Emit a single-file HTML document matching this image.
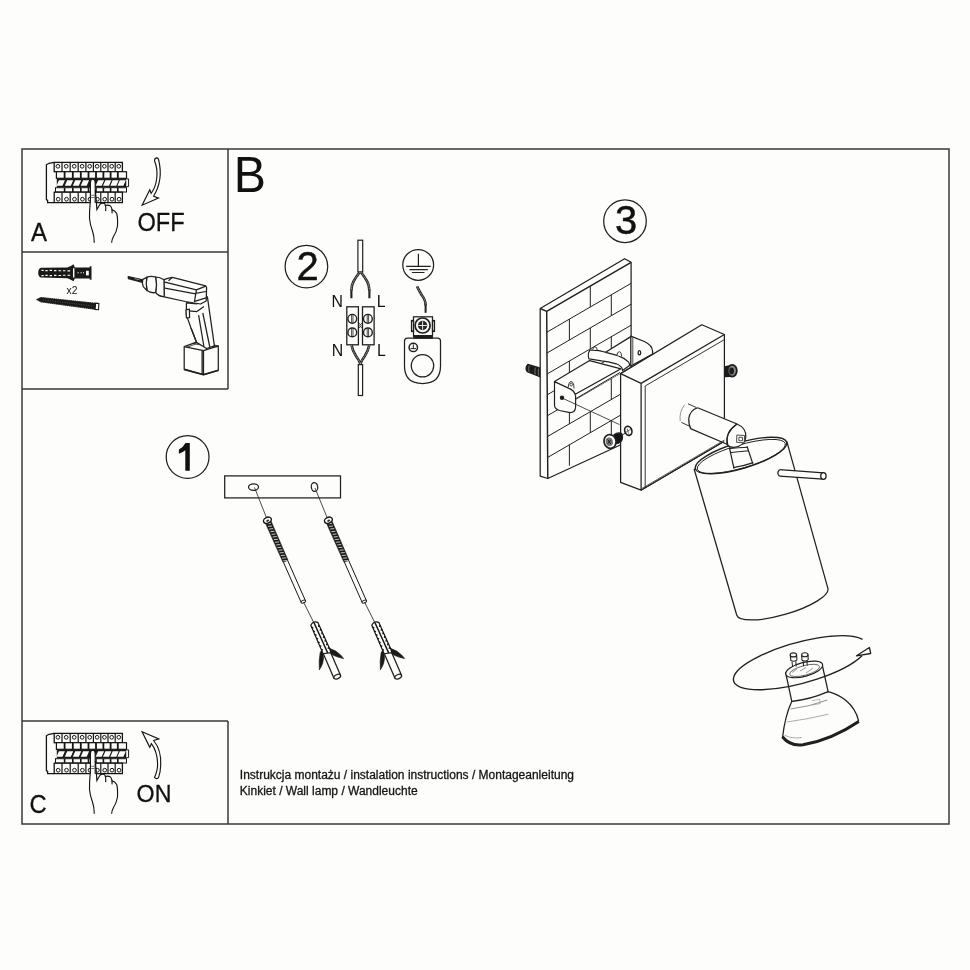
<!DOCTYPE html>
<html><head><meta charset="utf-8">
<style>
html,body{margin:0;padding:0;background:#fdfdfb;width:970px;height:970px;overflow:hidden}
svg{display:block;will-change:transform}
text{font-family:"Liberation Sans",sans-serif;fill:#111}
</style></head><body>
<svg width="970" height="970" viewBox="0 0 970 970">
<defs>
<g id="breaker" fill="none" stroke="#151515" stroke-width="1.15">
<path d="M54.2,162.4 L49,163.3 L46.4,164.8 L46.4,199.6 L47.6,200.4 L47.6,202.6 L54.2,202.6" fill="#fdfdfb" stroke-width="1.3"/>
<rect x="54.2" y="162.4" width="68.2" height="9.3" fill="#fdfdfb" stroke-width="1.3"/>
<path d="M62.0,162.4V171.7 M70.2,162.4V171.7 M78.2,162.4V171.7 M85.9,162.4V171.7 M93.4,162.4V171.7 M100.8,162.4V171.7 M108.0,162.4V171.7 M115.2,162.4V171.7" stroke-width="1.2"/>
<g stroke-width="1"><circle cx="57.9" cy="166.3" r="1.85"/><circle cx="66.2" cy="166.3" r="1.85"/><circle cx="74.2" cy="166.3" r="1.85"/><circle cx="82.1" cy="166.3" r="1.85"/><circle cx="89.7" cy="166.3" r="1.85"/><circle cx="97.1" cy="166.3" r="1.85"/><circle cx="104.4" cy="166.3" r="1.85"/><circle cx="111.7" cy="166.3" r="1.85"/><circle cx="118.8" cy="166.3" r="1.85"/></g>
<rect x="56.4" y="171.7" width="70.1" height="6.6" fill="#fdfdfb" stroke-width="1.2"/>
<path d="M64.6,171.7V178.3 M72.8,171.7V178.3 M80.8,171.7V178.3 M88.5,171.7V178.3 M96.0,171.7V178.3 M103.4,171.7V178.3 M110.6,171.7V178.3 M117.8,171.7V178.3" stroke-width="1.8"/>
<rect x="56.8" y="178.4" width="69.8" height="9" fill="#1a1a1a" stroke="none"/>
<path d="M126.4,178.9 H128.6 V186.6 H126.4" fill="#fdfdfb" stroke-width="1"/>
<path d="M56.5,185.7 L58.9,180.3 L64.9,180.3 L62.5,185.7 Z M64.8,185.7 L67.2,180.3 L73.2,180.3 L70.8,185.7 Z M72.8,185.7 L75.2,180.3 L81.2,180.3 L78.8,185.7 Z M80.7,185.7 L83.1,180.3 L89.1,180.3 L86.7,185.7 Z M95.7,185.7 L98.1,180.3 L104.1,180.3 L101.7,185.7 Z M103.0,185.7 L105.4,180.3 L111.4,180.3 L109.0,185.7 Z M110.3,185.7 L112.7,180.3 L118.7,180.3 L116.3,185.7 Z M117.4,185.7 L119.8,180.3 L125.8,180.3 L123.4,185.7 Z" fill="#fdfdfb" stroke="none"/>
<rect x="55.5" y="187.7" width="71.0" height="4.3" fill="#fdfdfb" stroke-width="1"/>
<path d="M64.6,187.7V192 M72.8,187.7V192 M80.8,187.7V192 M88.5,187.7V192 M96.0,187.7V192 M103.4,187.7V192 M110.6,187.7V192 M117.8,187.7V192" stroke-width="1.6"/>
<rect x="54.2" y="192.2" width="68.2" height="10.4" fill="#fdfdfb" stroke-width="1.3"/>
<path d="M62.0,192.2V202.6 M70.2,192.2V202.6 M78.2,192.2V202.6 M85.9,192.2V202.6 M93.4,192.2V202.6 M100.8,192.2V202.6 M108.0,192.2V202.6 M115.2,192.2V202.6" stroke-width="1.2"/>
<g stroke-width="1"><circle cx="58.2" cy="199.2" r="1.85"/><circle cx="66.5" cy="199.2" r="1.85"/><circle cx="74.5" cy="199.2" r="1.85"/><circle cx="82.4" cy="199.2" r="1.85"/><circle cx="90.0" cy="199.2" r="1.85"/><circle cx="97.4" cy="199.2" r="1.85"/><circle cx="104.7" cy="199.2" r="1.85"/><circle cx="112.0" cy="199.2" r="1.85"/><circle cx="119.1" cy="199.2" r="1.85"/></g>

  <!-- hand -->
  <path d="M90.4,183 Q90.6,179.2 92.8,179.2 Q95,179.2 95.2,183 L95.4,190 L96.9,209.6 L99.9,204.3 Q102,202.6 104.5,203.5 Q105.8,205.5 105.6,211 L105.8,207 Q107.5,204.8 110,205.5 Q112.5,207 112.4,213.4 L112.3,210 Q115,210.6 116.7,213.5 Q117.9,218 117.5,226 Q116.5,232 113.5,236 Q112,239.5 111.6,242.5 L94.3,242.7 Q94.2,236 92.5,230 Q89.8,223 89.6,215 L90.2,202.8 Z" fill="#fdfdfb" stroke="none"/>
  <path d="M90.4,202.8 L90.4,183 Q90.6,179.2 92.8,179.2 Q95,179.2 95.2,183 L95.2,203"/>
  <path d="M90.2,202.8 Q89.3,212 89.5,218.5 Q90.2,225 92.5,231 Q94.2,236 94.3,242.7"/>
  <path d="M95.4,190 L96.9,209.6 L99.9,204.3 Q102,202.6 104.5,203.5 Q106.2,205.8 105.6,211.1"/>
  <path d="M104.9,205.6 Q107.5,204.8 110,205.6 Q112.5,207.5 112,213.4"/>
  <path d="M111.6,209.6 Q115,210.4 116.7,213.5 Q117.9,218 117.5,226 Q116.5,232 113.5,236.5 Q111.8,239.5 111.6,242.8"/>
  <path d="M91.2,195.3 h3.2 M91.2,197.5 h3.2" stroke-width="0.6"/>
</g>
</defs>

<!-- frame -->
<g fill="none" stroke="#3a3a3a" stroke-width="1.5">
  <rect x="22" y="149" width="927" height="675"/>
  <path d="M228,149V389M22,252H228M22,389H228M22,721H228M228,721V824"/>
</g>

<!-- Panel A -->
<use href="#breaker"/>
<text transform="translate(31,240.9) scale(0.93,1)" stroke="#111" stroke-width="0.3" font-size="25.8">A</text>
<text transform="translate(137.4,230.9) scale(0.945,1)" font-size="25" stroke="#111" stroke-width="0.25">OFF</text>
<path d="M154.5,160.7 Q154.8,157.9 156.8,157.9 Q158.6,158 158.8,160.7 C161.5,172 161,184 153.6,196.2 L158.5,198.1 L142.1,205.2 L149.8,189.7 L151.1,193.4 C156.8,186 159.2,172 154.5,160.7 Z" fill="#fdfdfb" stroke="#151515" stroke-width="1.15" stroke-linejoin="miter"/>

<!-- Panel C -->
<use href="#breaker" transform="translate(0,571)"/>
<text transform="translate(29.6,813.3) scale(0.92,1)" stroke="#111" stroke-width="0.3" font-size="25.8">C</text>
<text transform="translate(136.6,802.3) scale(0.955,1)" stroke="#111" stroke-width="0.3" font-size="24.3">ON</text>
<path d="M142.1,731.8 L158.8,738.9 L153.6,740.5 C159,747 161.2,757 160.7,765.2 Q160.5,772 158.5,777.6 Q156.4,779.8 154.5,777.4 Q157.8,770 157.6,764 C157.5,756 155.5,749 151.4,743.6 L149.8,747.3 Z" fill="#fdfdfb" stroke="#151515" stroke-width="1.15"/>

<!-- Panel tools -->
<g id="dowel">
  <path d="M40.8,267.8 Q38.2,269 38.2,272.7 Q38.2,276.4 40.8,277.6 L67.4,278.2 Q71,279.5 73.6,281.2 L74.8,278.6 L89.7,278.6 L89.7,279.8 L91.5,279.8 L91.5,266.2 L89.7,266.2 L89.7,267.4 L74.8,267.4 L73.6,264.3 Q71,266.3 67.4,267.6 Z" fill="#1a1a1a"/>
  <path d="M41.5,270.4h2.2M45.3,270.6h2.4M49.6,270.4h2.4M54,270.6h2.4M58.5,270.7h2.6M63,270.8h2.4M67.5,270.9h2.6 M41.5,275.6h2.2M45.3,275.4h2.4M49.6,275.6h2.4M54,275.4h2.4M58.5,275.5h2.6M63,275.2h2.4M67.5,275.3h2.6" stroke="#fff" stroke-width="1.1"/>
  <path d="M73.7,268.2V277.4" stroke="#fff" stroke-width="1.4"/>
  <rect x="86" y="270.8" width="2.8" height="4.6" fill="#fdfdfb"/>
  <path d="M77.5,272.8h1.2M80.5,272.8h1.2M83,272.8h1" stroke="#fff" stroke-width="1"/>
</g>
<text x="66.6" y="293.7" font-size="10.3">x2</text>
<path d="M36.4,299.6 L40.5,297.5 L95.6,303.3 L95.2,309.3 L40.5,301.8 Z" fill="#1a1a1a" stroke="#1a1a1a" stroke-width="0.6" stroke-linejoin="round"/>
<path d="M41,297.6 L95.4,303.4 M41,301.8 L95.1,309.2" stroke="#1a1a1a" stroke-width="1.3" stroke-dasharray="0.7 1.2"/>
<path d="M43,299.9 L93.5,306" stroke="#777" stroke-width="0.6" stroke-dasharray="1 1.4"/>
<path d="M95.6,303.1 L98.9,303.5 L98.5,309.7 L95.1,309.4 Z" fill="#fdfdfb" stroke="#1a1a1a" stroke-width="1.1"/>

<!-- drill -->
<g fill="#fdfdfb" stroke="#202020" stroke-width="1.25" stroke-linejoin="round">
  <path d="M128.2,276.5 L142.8,279.8 L142.6,282.3 L128.4,278.6 Z" fill="#1a1a1a"/>
  <path d="M134.5,278.6 L139.5,279.8" stroke="#aaa" stroke-width="0.8"/>
  <!-- battery -->
  <path d="M184.2,346.7 L195.1,342.7 L218.3,345.8 L218.3,370.3 L203.5,374.7 L184.2,369.4 Z"/>
  <path d="M184.2,346.7 L203.5,350.6 L218.3,345.8 M203.5,350.6 L203.5,374.7 M202.1,350.4 L202.1,374.2"/>
  <path d="M184.2,369.4 L203.5,374.7 L218.3,370.3" stroke-width="1.7" fill="none"/>
  <path d="M186,347.6 L195.3,344.2 L217,347" fill="none" stroke-width="0.8"/>
  <!-- handle -->
  <path d="M186.4,302.9 L207.4,296.8 L214.4,345.8 L206.5,348.5 L196.5,342.3 L191,328 L186.4,315.1 Z"/>
  <path d="M189,310.8 L196.9,311.6 L203.9,306.4 M198.6,315.1 L203.9,346.5 M202.8,313 L209.8,347 M186.4,303 L196.9,303.8 L207.4,296.8" fill="none"/>
  <path d="M186,309.9 L189.4,309.2 L189.6,317.6 L186.4,317.8 Z"/>
  <path d="M191,328 L196.5,342.3 L193.8,343.5" fill="none"/>
  <!-- body -->
  <path d="M164,279.7 L167.7,278.3 L172.3,277.4 L205.7,285.8 L206.6,287.5 L206.2,301 L200.5,304 L185.3,301.5 L164.2,296.9 Z"/>
  <path d="M164.9,282.1 L196.4,289.9 L205.8,286.2 M164.9,288.1 L194.1,293.7 L205.9,291.5 M194.6,301.3 L206,297.8 M196.4,289.9 L194.4,302 M172.3,277.4 L168.5,280.8" fill="none"/>
  <!-- chuck -->
  <path d="M155.6,277 Q160,277.3 164,279.7 L164.2,296.5 Q159,296.8 155.6,292.5 Q157.4,284.8 155.6,277 Z"/>
  <path d="M146.8,277.2 Q151,275.6 155.6,277 Q157.4,284.8 155.6,292.5 Q151,293.5 147,290.5 Q145.6,284 146.8,277.2 Z"/>
  <path d="M142.8,279.4 L146.8,277.4 Q145.6,284 147,290.5 L143.2,286.6 Q141.8,283 142.8,279.4 Z"/>
</g>

<!-- B header -->
<text transform="translate(233.8,192.1) scale(0.965,1)" font-size="50">B</text>

<!-- Step 2: wiring -->
<g fill="none" stroke="#202020" stroke-width="1.25">
  <circle cx="306.4" cy="266.6" r="21.3"/>
  <circle cx="418.2" cy="264.9" r="15.4"/>
  <path d="M418.4,253.8V266.3 M406.1,266.3H430.7 M409.4,269.6H427.8 M411.9,272.5H424.5" stroke-width="1.2"/>
  <!-- top cable -->
  <rect x="357.9" y="240.2" width="4.8" height="31.7" fill="#fdfdfb" stroke-width="1.2"/>
  <path d="M359.6,272.3 Q356,277 353.5,281.5 Q351.3,285.5 351.3,291 M361,272.3 Q364.6,277 367.2,281.5 Q369.4,285.5 369.4,291" stroke-width="2.6"/>
  <path d="M359.6,272.3 Q356,277 353.5,281.5 Q351.3,285.5 351.3,291 M361,272.3 Q364.6,277 367.2,281.5 Q369.4,285.5 369.4,291" stroke="#d8d8d8" stroke-width="0.8" stroke-dasharray="1.2 0.6"/>
  <path d="M351.4,290.5V298.2 M369.4,290.5V298.2" stroke-width="2.1"/>
  <!-- terminal -->
  <rect x="346.8" y="306.8" width="11.6" height="38" fill="#fdfdfb" stroke-width="1.3"/>
  <rect x="362.5" y="306.8" width="11.6" height="38" fill="#fdfdfb" stroke-width="1.3"/>
  <g stroke-width="1.4"><circle cx="352.3" cy="318.8" r="4.4"/><circle cx="352.3" cy="332.4" r="4.4"/>
  <circle cx="367.9" cy="318.8" r="4.4"/><circle cx="367.9" cy="332.4" r="4.4"/></g>
  <path d="M351.6,315V322.6M353,315V322.6M351.6,328.6V336.2M353,328.6V336.2M367.2,315V322.6M368.6,315V322.6M367.2,328.6V336.2M368.6,328.6V336.2" stroke-width="0.8"/>
  <path d="M358.4,322.6 L360.4,324.6 L362.5,322.6 M358.4,328.6 L360.4,326.6 L362.5,328.6" stroke-width="0.8"/>
  <circle cx="360.4" cy="325.6" r="0.9" stroke-width="0.6"/>
  <!-- bottom wires -->
  <path d="M351.6,345.3 Q352.5,351 356,356 Q359,360 360.4,364 M369.2,345.3 Q368.3,351 364.8,356 Q361.8,360 360.4,364" stroke-width="2.6"/>
  <path d="M351.6,345.3 Q352.5,351 356,356 Q359,360 360.4,364 M369.2,345.3 Q368.3,351 364.8,356 Q361.8,360 360.4,364" stroke="#d8d8d8" stroke-width="0.8" stroke-dasharray="1.2 0.6"/>
  <rect x="358.3" y="364.6" width="4.3" height="30.9" fill="#fdfdfb" stroke-width="1.2"/>
  <!-- earth wire -->
  <path d="M417,286.4 Q419.5,291.5 422,295.5 Q425.6,300 425.6,305.5" stroke-width="2.6"/>
  <path d="M417,286.4 Q419.5,291.5 422,295.5 Q425.6,300 425.6,305.5" stroke="#d8d8d8" stroke-width="0.8" stroke-dasharray="1.2 0.6"/>
  <path d="M425.6,304.5V312.8" stroke-width="2"/>
  <!-- earth terminal -->
  <path d="M404.5,341 Q404.5,338 407.5,338 L437.5,338 Q440.5,338 440.5,341 L440.5,366 Q440.5,383.5 422.5,383.5 Q404.5,383.5 404.5,366 Z" fill="#fdfdfb"/>
  <circle cx="422.5" cy="365.8" r="11.2"/>
  <circle cx="413.3" cy="347.4" r="4.2" stroke-width="1.5"/>
  <path d="M413.3,344.4V348.3M410.6,348.6H416" stroke-width="1"/>
  <rect x="413.5" y="316.8" width="19" height="19.5" fill="#fdfdfb"/>
  <rect x="411.5" y="320.5" width="2" height="11"/><rect x="432.5" y="320.5" width="2" height="11"/>
  <path d="M414,335.6H432.2V338H414Z" fill="#1a1a1a"/>
  <circle cx="422.6" cy="325.5" r="7.5" stroke-width="1.7"/>
  <circle cx="422.6" cy="325.5" r="4.7" fill="#262626" stroke="none"/>
  <path d="M422.6,321.2V329.8M418.3,325.5H426.9" stroke="#fdfdfb" stroke-width="0.9"/>
</g>
<g font-size="16.5">
  <text transform="translate(331.6,306.6) scale(0.96,1)">N</text><text transform="translate(376.8,306.5) scale(0.96,1)">L</text>
  <text transform="translate(331.8,356.4) scale(0.96,1)">N</text><text transform="translate(376.9,356.3) scale(0.96,1)">L</text>
</g>
<text x="296.5" y="279.8" font-size="40" stroke="#111" stroke-width="0.45">2</text>

<!-- Step 1 -->
<g fill="none" stroke="#202020" stroke-width="1.25">
  <circle cx="187.6" cy="457" r="21.4"/>
  <rect x="224.7" y="475.9" width="115.8" height="22"/>
  <ellipse cx="253.5" cy="487.1" rx="5" ry="3.3"/>
  <ellipse cx="314.5" cy="487" rx="3.2" ry="4.5" transform="rotate(-8 314.5 487)"/>
  <path d="M254.5,487.5 L266.6,518 M315,488 L327.3,518" stroke-width="0.8"/>
</g>
<path d="M185.5,443 L189.8,443 L189.8,470.8 L185.3,470.8 L185.3,450.3 Q182.6,452.6 178.9,453.8 L178.9,449.6 Q183.2,447.3 185.5,443 Z" fill="#111"/>
<g id="screwset">
<path d="M265.06,522.33 L283.09,562.46 L288.03,560.28 L270.55,519.90 Z" fill="#1a1a1a" stroke="#1a1a1a" stroke-width="0.6"/>
<path d="M266.87,523.71 L270.87,523.37 M268.04,526.36 L272.04,526.02 M269.21,529.02 L273.22,528.67 M270.38,531.67 L274.39,531.33 M271.55,534.32 L275.56,533.98 M272.73,536.98 L276.73,536.63 M273.90,539.63 L277.90,539.29 M275.07,542.28 L279.07,541.94 M276.24,544.94 L280.24,544.59 M277.41,547.59 L281.41,547.25 M278.58,550.24 L282.58,549.90 M279.75,552.90 L283.75,552.55 M280.92,555.55 L284.92,555.21 M282.09,558.20 L286.09,557.86 M283.26,560.86 L287.26,560.51" stroke="#fff" stroke-width="0.75" fill="none"/>
<path d="M283.46,562.30 L301.22,602.56 M287.67,560.44 L305.43,600.70" stroke="#151515" stroke-width="1" fill="none"/>
<ellipse cx="303.32" cy="601.63" rx="2.4" ry="1.4" transform="rotate(-23.8 303.32 601.63)" fill="#fdfdfb" stroke="#151515" stroke-width="1"/>
<ellipse cx="267.40" cy="520.20" rx="4.1" ry="2.9" transform="rotate(-23.8 267.40 520.20)" fill="#fdfdfb" stroke="#151515" stroke-width="1.4"/>
<ellipse cx="267.70" cy="520.70" rx="1.6" ry="1" transform="rotate(-23.8 267.70 520.70)" fill="#333"/>
<path d="M303.53,602.09 L313.5,622" stroke="#151515" stroke-width="0.8" fill="none"/>
<path d="M310.81,625.35 Q312.90,620.62 317.78,622.32 L329.68,648.78 L331.51,654.52 L323.13,653.79 Z" fill="#fdfdfb" stroke="#151515" stroke-width="1.2"/>
<path d="M311.60,627.18 L313.30,628.08 M319.07,625.04 L318.56,626.89 M313.19,630.85 L314.89,631.75 M320.66,628.71 L320.15,630.56 M314.78,634.52 L316.48,635.42 M322.25,632.38 L321.74,634.23 M316.37,638.19 L318.07,639.09 M323.84,636.05 L323.33,637.90 M317.96,641.86 L319.66,642.76 M325.43,639.72 L324.92,641.57 M319.55,645.53 L321.25,646.43 M327.02,643.39 L326.51,645.24 M321.14,649.20 L322.84,650.10 M328.61,647.06 L328.10,648.91" stroke="#151515" stroke-width="1.3" fill="none"/>
<path d="M314.08,622.84 L330.14,658.38" stroke="#151515" stroke-width="1.4" fill="none"/>
<path d="M323.32,653.71 L333.89,678.12 L340.50,675.26 L330.72,652.68 Z" fill="#fdfdfb" stroke="#202020" stroke-width="1.25"/>
<ellipse cx="337.19" cy="676.69" rx="3.6" ry="2.1" transform="rotate(-23.4 337.19 676.69)" fill="#fdfdfb" stroke="#202020" stroke-width="1.25"/>
<path d="M321.4,650.6 Q325,656.5 322.6,663.5 Q321.2,667 319.4,669.8 Q318.6,661 320.2,652.6 Z M330,648.6 Q336.5,650.6 340.6,655 L343.6,658.5 Q338.5,657.6 334,655.6 Q331.8,654.6 330.8,653.2 Z" fill="#1a1a1a" stroke="#1a1a1a" stroke-width="0.7" stroke-linejoin="round"/>
</g>

<use href="#screwset" transform="translate(61,0)"/>

<!-- Step 3 header -->
<circle cx="625" cy="221.2" r="21.3" fill="none" stroke="#202020" stroke-width="1.25"/>
<text x="614.9" y="234.2" font-size="40" stroke="#111" stroke-width="0.45">3</text>

<!-- Step 3 lamp -->
<defs>
  <clipPath id="wallface"><path d="M546.7,311.3 L631.1,262.3 L631.1,440 L547.8,478.5 Z"/></clipPath>
</defs>
<g fill="none" stroke="#202020" stroke-width="1.25" stroke-linejoin="round">
  <!-- left screw stub -->
  <path d="M527.8,364.4 L540.4,368 L540.4,376.8 L527.2,371.6 Q524.6,368 527.8,364.4 Z" fill="#1a1a1a"/>
  <path d="M529.2,365.6 Q528.2,368.5 529,371.8 M535.4,367.6 Q534.4,371 535.2,374.4 M538.6,368.6 Q537.8,372 538.5,375.6" stroke="#999" stroke-width="0.7"/>
  <!-- wall -->
  <path d="M540.2,308.5 L624.6,258.7 L631.1,262.3 L631.1,440 L547.8,478.5 L540.2,476.1 Z" fill="#fdfdfb"/>
  <path d="M540.2,308.5 L546.7,311.3 L631.1,262.3 M546.7,311.3 L547.8,478.5" stroke-width="1.45"/>
  <g clip-path="url(#wallface)" stroke-width="1">
    <path d="M546,332.7 L632,282.8 M546,353.6 L632,303.7 M546,374.6 L632,324.7 M546,395.5 L632,345.6 M546,416.5 L632,366.6 M546,437.4 L632,387.5 M546,458.4 L632,408.5"/>
    <path d="M590.3,286.0V307.0 M569.4,319.1V340.0 M611.3,294.8V315.7 M590.3,327.9V348.9 M569.4,361.0V381.9 M611.3,336.7V357.6 M590.3,369.8V390.8 M569.4,402.9V423.8 M611.3,378.6V399.5 M590.3,411.7V432.7 M569.4,444.8V465.7 M611.3,420.5V441.4"/>
  </g>
  <!-- far bracket tab -->
  <path d="M605.6,352.2 L630.8,336.6 L630.8,364 L605.6,370 Z" fill="#fdfdfb" stroke="none"/>
  <path d="M605.6,352.2 L630.8,336.6"/>
  <path d="M630.8,336.2 L644.4,341.5 Q652.4,345.3 652.6,351.5 L652.6,354 L630.8,366 Z" fill="#fdfdfb" stroke-width="1.3"/>
  <path d="M632.8,337.6 V364.5" stroke-width="0.8"/>
  <ellipse cx="639.4" cy="352.7" rx="1.3" ry="2.1" fill="#fdfdfb" stroke-width="1.3"/>
  <!-- bracket body -->
  <path d="M575.7,394 L621,368.8 L621,373 L576.2,398.8 Z" fill="#fdfdfb" stroke="none"/>
  <path d="M554.5,381.6 L589.6,360.6 L621,368.8 L575.7,394 Z" fill="#fdfdfb" stroke-width="1.2"/>
  <path d="M576.2,398.5 L620,372.5" stroke-width="1"/>
  <path d="M554.5,381.6 L569,388.4 Q574.5,390.5 575.6,396 L575.6,407 Q575.3,412.6 570,412.6 L559.5,410.5 Q554.5,409 554.5,405 Z" fill="#fdfdfb" stroke-width="1.2"/>
  <circle cx="562" cy="397.7" r="1.6" fill="#1a1a1a"/>
  <path d="M568.3,387.5 Q568.4,382 571.2,381.5 Q574,382 574,388.5" fill="#fdfdfb" stroke-width="0.9"/>
  <ellipse cx="571.2" cy="384.6" rx="1.2" ry="1.5" stroke-width="0.8"/>
  <!-- strap -->
  <path d="M590,350.2 Q597,349.5 605.6,352.3 Q613,354 618,355.6 Q624.6,358 628.7,362.2 Q629.8,364 629.5,365.5 L622.5,370.4 Q622,367.5 621.3,367.1 Q618.5,364.5 616.3,363.8 Q608,361.5 601.5,360.9 L589.1,358.9 Q587,354.5 590,350.2 Z" fill="#fdfdfb" stroke-width="1.2"/>
  <path d="M592.8,349.6 Q593,346.8 595,346.8 Q597,347 597.2,350" fill="#fdfdfb" stroke-width="0.9"/>
  <path d="M617,355.2 Q617.2,351.8 619.3,351.7 Q621.5,352 621.6,356.4" fill="#fdfdfb" stroke-width="0.9"/>
  <!-- guide line -->
  <path d="M562.5,398.2 L619.5,424.6" stroke-width="0.8"/>
  <!-- canopy -->
  <path d="M620.6,373.6 L701.8,324.7 L724.4,334.5 L724.4,441.3 L641.1,490.2 L620.6,482.3 Z" fill="#fdfdfb"/>
  <path d="M620.6,373.6 L641.1,383.4 L724.4,334.5 M641.1,383.4 L641.1,490.2"/>
  <path d="M645.2,386 L645.2,488 M645.2,386 L724.4,339.6" stroke-width="0.9"/>
    <!-- right screw -->
  <path d="M724.6,366.2 L730,365 L730,377 L724.6,377.2 Z" fill="#1a1a1a" stroke="none"/>
  <ellipse cx="732.2" cy="370.7" rx="4.6" ry="5.9" fill="#888" stroke="#1d1d1d" stroke-width="1.8"/>
  <ellipse cx="731.6" cy="370.9" rx="2.4" ry="3.4" fill="#1d1d1d" stroke="none"/>
  <!-- front screw -->
  <path d="M621.5,435.4 L625.6,433" stroke-width="0.9"/>
  <ellipse cx="628.3" cy="430.8" rx="3.5" ry="4.6" transform="rotate(-20 628.3 430.8)" fill="#fdfdfb" stroke-width="1.7"/>
  <path d="M627.2,428.5 L628.5,433.5 M626.3,431.8 L630.3,429.6" stroke="#444" stroke-width="0.8"/>
  <path d="M614,434.8 Q617.5,432 621.5,433.4 Q623.6,437.5 621.6,441 Q618,444.2 614.5,443.6 Z" fill="#151515"/>
  <ellipse cx="610" cy="441.4" rx="6" ry="6.9" transform="rotate(-15 610 441.4)" fill="#fdfdfb" stroke-width="1.7"/>
  <ellipse cx="609.3" cy="441.8" rx="3.6" ry="4.4" transform="rotate(-15 609.3 441.8)" fill="#777" stroke="none"/>
  <path d="M607.8,439.5 L610.8,444.2 M611,439.8 L607.6,443.8" stroke="#111" stroke-width="0.9"/>
  <!-- arm -->
  <path d="M688,403.8 L697.7,407.7 L737,424 Q746.5,428.5 745.8,437.2 Q745,445 734,447.4 Q729,447.5 726.6,444.2 L681.4,422.4 Q678.5,414 684.7,404.7 Z" fill="#fdfdfb" stroke="none"/>
  <path d="M688,403.8 L696.5,407.6 M681.4,422.4 L689.5,426.2" stroke-width="0.9"/>
  <path d="M684.7,404.7 Q679,411.5 680.2,421.2" stroke-width="0.7" stroke="#666"/>
  <path d="M697.7,407.7 Q690,410 688.8,418.5 Q688.6,425 690.8,428.9" stroke-width="1.2"/>
  <path d="M697.7,407.7 L737,424 M690.5,428.6 L727,444.2" stroke-width="1.2"/>
  <!-- canopy bottom edges continuing behind shade -->
  <path d="M641.1,490.2 L724.4,441.3" stroke-width="1"/>
  <path d="M641.1,488.9 L724.4,440" stroke-width="0.7"/>
  <!-- shade -->
  <path d="M694.2,469.3 L736.7,615 A47.5,13 -16.3 0 0 827.9,588.4 L786.8,441.4 Z" fill="#fdfdfb"/>
  <ellipse cx="741" cy="455.5" rx="47.5" ry="13" transform="rotate(-16.3 741 455.5)" fill="#fdfdfb" stroke-width="1.4"/>
  <ellipse cx="741.3" cy="456.4" rx="45.8" ry="11.6" transform="rotate(-16.3 741.3 456.4)" stroke-width="0.9"/>
  <!-- stem inside -->
  <path d="M729.4,447.5 L747,446.3 L752.8,463.6 L734,468.6 Z" fill="#fdfdfb" stroke="none"/>
  <path d="M729.4,447.5 L734,468.6 M747,446.3 L752.8,463.6" stroke-width="1.2"/>
  <path d="M729.6,448.6 Q738,447.6 747.3,447.3 M730.6,452.6 Q739,451.6 748.6,450.8" stroke-width="1"/>
  <path d="M733.2,467.6 Q743,466.2 753.3,462.6" stroke-width="1.4"/>
  <!-- far cap / knuckle -->
  <path d="M737,424 Q746.5,428 745.8,437.2 Q745.2,445.5 734,447.4 Q729.5,447.6 727,444.4 Q725.2,432.5 737,424 Z" fill="#fdfdfb" stroke-width="1.2"/>
  <path d="M737,424 Q728.5,429.5 727.2,437 Q726.8,442 727.8,445" stroke-width="1.2"/>
  <path d="M736.8,435 L744.6,435.5 L744.2,442.8 L736.6,442.3 Z M739,437.2 L742.6,437.4 L742.4,440.8 L738.8,440.6 Z" stroke-width="0.8" fill="#fdfdfb"/>
  <!-- pin -->
  <path d="M779.5,469.7 L823.6,472.9 L823.2,479.1 L779.5,476.2 Z" fill="#fdfdfb" stroke="none"/><path d="M779.5,469.7 L823.6,472.9 M779.5,476.2 L823.2,479.1" fill="none"/>
  <path d="M779.5,469.7 Q776.2,472.9 779.5,476.2" />
  <ellipse cx="823.4" cy="476" rx="2.7" ry="3.3" fill="#fdfdfb"/>
</g>

<!-- Bulb & rotate ellipse -->
<g fill="none" stroke="#202020" stroke-width="1.25" stroke-linejoin="round">
  <!-- reflector -->
  <path d="M791.8,701.3 Q785,716 782.6,737.1 Q790,746.5 800,745.2 Q830,741 858.6,720.8 Q856,709 846,700.5 Q838,694 828.1,691.6 Z" fill="#fdfdfb"/>
  <path d="M782.4,736.8 Q790,746.4 803,744.8 Q832,739.5 858.8,721.4" stroke-width="3"/>
  <path d="M790.5,709 Q808,707 827.5,700" stroke="#777" stroke-width="0.8"/>
  <path d="M786.8,722 Q806,719.5 828.5,714.2" stroke="#888" stroke-width="0.7"/>
  <path d="M784.5,735.2 Q792,739 802,737.6" stroke="#888" stroke-width="0.7"/>
  <path d="M811.8,700.8 L819.6,699.2 L820.2,703.6 L812.4,705" stroke="#999" stroke-width="0.7"/>
  <!-- base -->
  <path d="M785.6,672.5 L791.8,701.3 Q810,699.5 828.1,691.6 L822.6,666.5 Z" fill="#fdfdfb"/>
  <ellipse cx="804.2" cy="669.4" rx="19" ry="7" transform="rotate(-15 804.2 669.4)" fill="#fdfdfb" stroke-width="1.2"/>
  <ellipse cx="804.6" cy="670.4" rx="15.5" ry="4.8" transform="rotate(-15 804.6 670.4)" stroke="#555" stroke-width="0.8"/>
  <path d="M792,672.5 L797,669 M800,671 L806,667.5 M806,673 L813,668" stroke="#777" stroke-width="0.7"/>
  <!-- pins -->
  <path d="M790.3,655 L790.8,660.6 M796.6,654.8 L796.9,660.2 M801.6,654.8 L802,660.4 M808,654.6 L808.2,660" stroke-width="1.1"/>
  <path d="M790.8,660.6 Q793.8,662.2 796.9,660.2 M802,660.4 Q805,662 808.2,660" stroke-width="1"/>
  <path d="M792,661.5 L792.6,667 M795.8,661.2 L796.2,666.4 M803.2,661.3 L803.6,666.3 M807,661 L807.2,665.6" stroke-width="1"/>
  <ellipse cx="793.4" cy="654.9" rx="3.2" ry="2" fill="#fdfdfb" stroke-width="1.1"/>
  <ellipse cx="804.8" cy="654.7" rx="3.2" ry="2" fill="#fdfdfb" stroke-width="1.1"/>
  <!-- rotation ellipse -->
  <path d="M862.5,639.3 A69.3,20.5 -15.4 1 0 862,655.8" stroke-width="1.4"/>
  <path d="M856.5,655.8 L869.4,647.5 L870.7,653.5 Z" fill="#fdfdfb" stroke-width="1.3"/>
</g>

<!-- Text -->
<g font-size="12" stroke="#1a1a1a" stroke-width="0.3">
<text x="239.8" y="779.3">Instrukcja montażu / instalation instructions / Montageanleitung</text>
<text x="239.8" y="795">Kinkiet / Wall lamp / Wandleuchte</text>
</g>

</svg>
</body></html>
